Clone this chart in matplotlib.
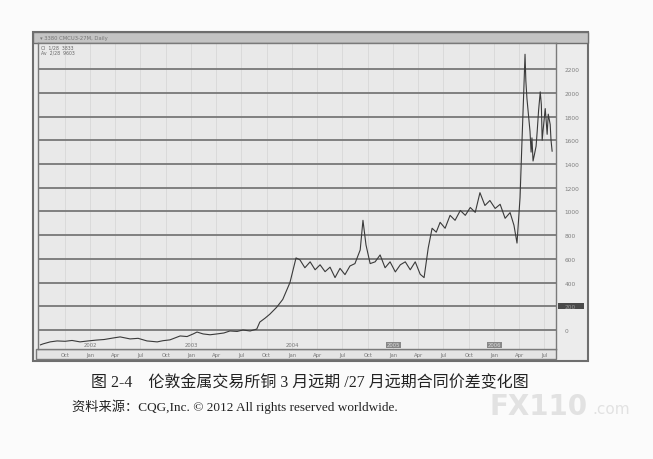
import matplotlib.pyplot as plt
import matplotlib.dates as mdates
import matplotlib.transforms as mtransforms
from matplotlib.patches import Rectangle
import pandas as pd

plt.rcParams['font.family'] = ['Liberation Serif', 'Noto Sans CJK SC']

# 3月/27月价差
dates = ['2001-07-05', '2001-07-14', '2001-08-09', '2001-09-03', '2001-10-02', '2001-10-27',
         '2001-11-25', '2001-12-24', '2002-01-22', '2002-02-20', '2002-03-25', '2002-04-19',
         '2002-05-25', '2002-06-23', '2002-07-25', '2002-08-31', '2002-09-21', '2002-10-16',
         '2002-11-22', '2002-12-17', '2003-01-08', '2003-01-22', '2003-02-13', '2003-03-10',
         '2003-04-04', '2003-04-29', '2003-05-21', '2003-06-16', '2003-07-07', '2003-08-02',
         '2003-08-26', '2003-09-06', '2003-09-25', '2003-10-12', '2003-11-06', '2003-11-28',
         '2003-12-24', '2004-01-15', '2004-01-29', '2004-02-16', '2004-03-06', '2004-03-24',
         '2004-04-11', '2004-04-29', '2004-05-17', '2004-06-04', '2004-06-22', '2004-07-10',
         '2004-07-28', '2004-08-15', '2004-09-03', '2004-09-13', '2004-09-24', '2004-10-09',
         '2004-10-27', '2004-11-14', '2004-12-02', '2004-12-20', '2005-01-08', '2005-01-26',
         '2005-02-13', '2005-03-03', '2005-03-21', '2005-04-08', '2005-04-22', '2005-05-07',
         '2005-05-21', '2005-06-05', '2005-06-19', '2005-07-07', '2005-07-25', '2005-08-12',
         '2005-08-31', '2005-09-18', '2005-10-06', '2005-10-24', '2005-11-10', '2005-11-28',
         '2005-12-16', '2006-01-04', '2006-01-22', '2006-02-09', '2006-02-27', '2006-03-13',
         '2006-03-24', '2006-04-04', '2006-04-11', '2006-04-18', '2006-04-22', '2006-04-25',
         '2006-04-29', '2006-05-03', '2006-05-10', '2006-05-14', '2006-05-17', '2006-05-21',
         '2006-05-26', '2006-06-01', '2006-06-05', '2006-06-10', '2006-06-16', '2006-06-20',
         '2006-06-23', '2006-06-27', '2006-07-04', '2006-07-07', '2006-07-11', '2006-07-15',
         '2006-07-22', '2006-07-25', '2006-07-29']
spread = [-125, -117, -100, -92, -95, -88, -100, -92, -85, -80, -67, -58,
          -75, -70, -92, -100, -90, -83, -50, -55, -33, -17, -33, -40,
          -33, -25, -8, -12, 0, -8, 8, 67, 100, 133, 192, 258,
          400, 608, 592, 525, 575, 508, 550, 492, 530, 442, 520, 467,
          540, 560, 675, 925, 717, 560, 575, 633, 525, 575, 490, 550,
          575, 508, 575, 470, 442, 692, 858, 825, 908, 858, 967, 925,
          1008, 967, 1033, 992, 1158, 1050, 1092, 1025, 1060, 942, 990, 883,
          733, 1117, 1592, 2050, 2325, 2100,
          1950, 1850, 1675, 1500, 1620, 1425,
          1480, 1550, 1675, 1850, 2008, 1900,
          1600, 1700, 1867, 1780, 1650, 1820,
          1733, 1600, 1508]

yticks = list(range(0, 2201, 200))
months = ['Jan', 'Apr', 'Jul', 'Oct']

x = pd.to_datetime(dates)

fig = plt.figure(figsize=(6.53, 4.6), dpi=100)
fig.patch.set_facecolor('#fbfbfb')
W, H = 653, 460

def fr(x0, y0, x1, y1):
    return (x0 / W, 1 - y1 / H), (x1 - x0) / W, (y1 - y0) / H

# 窗口外框
xy, w, h = fr(33, 33, 588, 362)
fig.patches.append(Rectangle(xy, w, h, transform=fig.transFigure, facecolor='#ececec',
                             edgecolor='#6e6e6e', lw=1.5, zorder=0))
xy, w, h = fr(33, 33, 588, 44)
fig.patches.append(Rectangle(xy, w, h, transform=fig.transFigure, facecolor='#c4c4c4',
                             edgecolor='#6e6e6e', lw=1, zorder=0.5))
xy, w, h = fr(36, 350, 556, 360)
fig.patches.append(Rectangle(xy, w, h, transform=fig.transFigure, facecolor='#e4e4e4',
                             edgecolor='#7a7a7a', lw=1, zorder=0.5))
fig.text(40 / W, 1 - 38.5 / H, '\u25be 3380 CMCU3-27M, Daily', fontsize=3.8,
         color='#777777', va='center', family='DejaVu Sans')

ax = fig.add_axes([38 / W, 1 - 350 / H, (556 - 38) / W, (350 - 44) / H])
ax.set_zorder(2)
ax.set_facecolor('#e9e9e9')
ax.plot(x, spread, color='#3a3a3a', lw=0.8)

ax.set_ylim(-160, 2420)
ax.set_xlim(pd.Timestamp('2001-06-26'), pd.Timestamp('2006-08-12'))

ax.set_yticks(yticks)
ax.yaxis.tick_right()
ax.tick_params(axis='y', length=0, pad=6, labelsize=4.2, labelcolor='#808080')
for lab in ax.get_yticklabels():
    lab.set_family('DejaVu Sans')
ax.grid(axis='y', color='#787878', lw=1.3)

qt = pd.date_range('2001-10-01', '2006-07-01', freq='QS')
ax.set_xticks(qt)
ax.set_xticklabels([months[(d.month - 1) // 3] for d in qt], family='DejaVu Sans')
ax.tick_params(axis='x', length=0, pad=2, labelsize=3.8, labelcolor='#777777')
for d in qt:
    ax.axvline(d, color='#d8d8d8', lw=0.6, zorder=0)

trans = mtransforms.blended_transform_factory(ax.transData, ax.transAxes)
for d in qt:
    if d.month == 1:
        dark = d.year >= 2005
        ax.text(d, 0.005, str(d.year), transform=trans, ha='center', va='bottom',
                fontsize=3.8, color='#dddddd' if dark else '#777777', family='DejaVu Sans',
                bbox=dict(boxstyle='square,pad=0.15', fc='#888888', ec='none') if dark else None)

for s in ax.spines.values():
    s.set_color('#7a7a7a')
    s.set_linewidth(1)

# 右侧当前值框
ty = mtransforms.blended_transform_factory(ax.transAxes, ax.transData)
ax.add_patch(Rectangle((1.004, 175), 0.05, 55, transform=ty, facecolor='#4a4a4a',
                       edgecolor='none', clip_on=False))
ax.get_yticklabels()[1].set_color('#9a9a9a')

ax.text(0.005, 0.995, 'Cl  1/28  3833\nAv  2/28  9603', transform=ax.transAxes, fontsize=3.3,
        color='#666666', va='top', family='DejaVu Sans', linespacing=1.0)

fig.text(310 / W, 1 - 383 / H, '图 2-4　伦敦金属交易所铜 3 月远期 /27 月远期合同价差变化图',
         fontsize=11.5, ha='center', va='center', color='#222222')
fig.text(72 / W, 1 - 407 / H, '资料来源：CQG,Inc. © 2012 All rights reserved worldwide.',
         fontsize=9.5, ha='left', va='center', color='#222222')
fig.text(490 / W, 1 - 407 / H, 'FX110', fontsize=20, ha='left', va='center',
         color='#e2e2e2', weight='bold', family='DejaVu Sans')
fig.text(592 / W, 1 - 410 / H, '.com', fontsize=11, ha='left', va='center',
         color='#e2e2e2', family='DejaVu Sans')

fig.savefig('out.png', dpi=100, facecolor=fig.get_facecolor())
